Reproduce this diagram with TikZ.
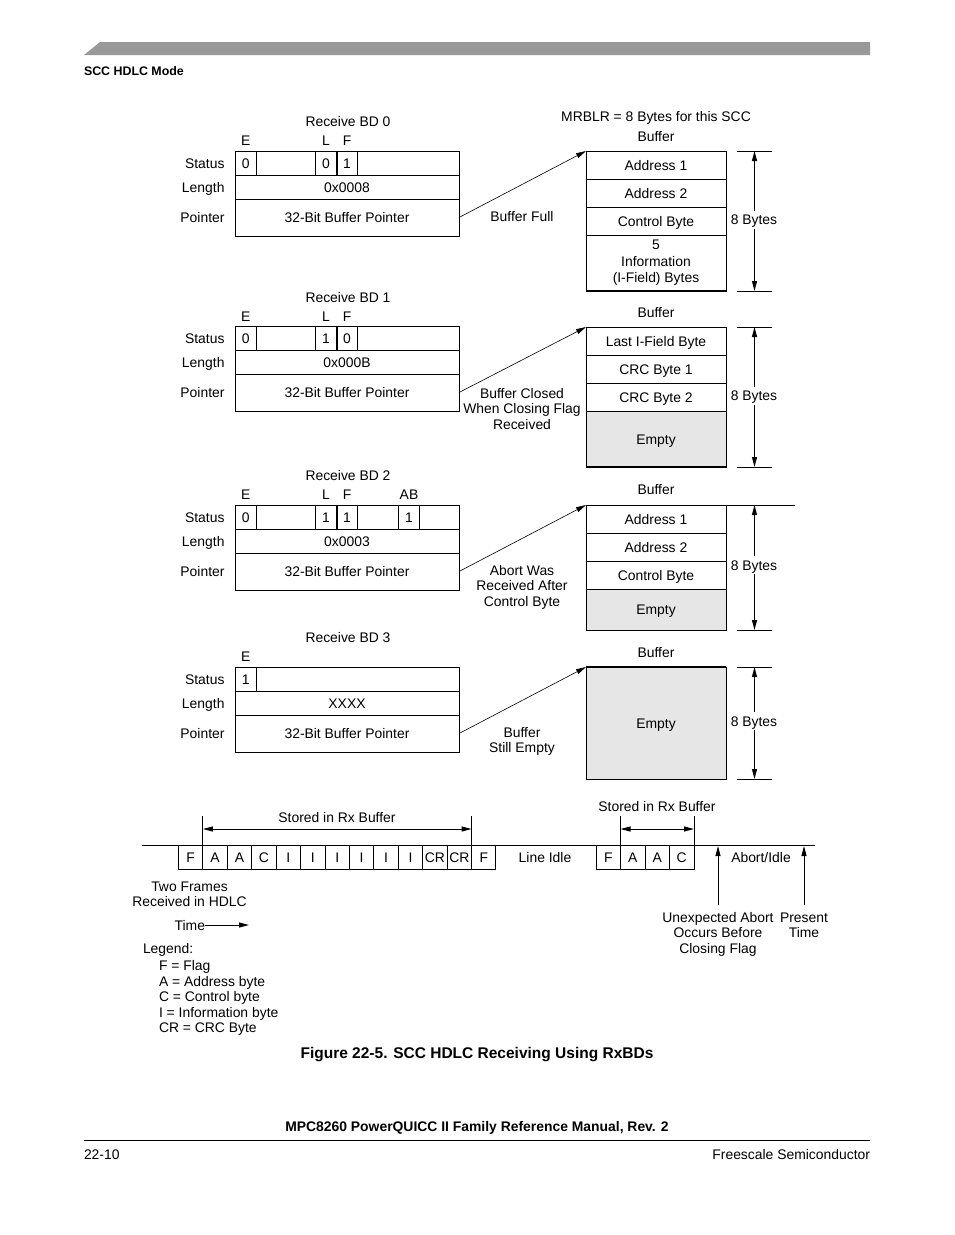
\documentclass[tikz,border=0pt]{standalone}
\usepackage{fontspec}
\setmainfont{Liberation Sans}
\usetikzlibrary{arrows.meta}
\definecolor{emptygray}{HTML}{E6E6E6}
\definecolor{bargray}{HTML}{999999}
\begin{document}
\begin{tikzpicture}[x=1pt,y=-1pt,
  f/.style={font=\fontsize{13.9}{16}\selectfont},
  tx/.style={f, inner sep=0pt, outer sep=0pt, text height=10pt, text depth=0pt, anchor=center},
  lbl/.style={tx, anchor=east},
  lft/.style={tx, anchor=west},
  bdrow/.style={tx, draw, line width=1pt, minimum width=224pt},
  bufrow/.style={tx, draw, line width=1pt, minimum width=140pt},
  grayrow/.style={bufrow, fill=emptygray},
  cell/.style={tx, draw, line width=1pt, minimum width=24.42pt, minimum height=24pt},
  cellb/.style={cell, minimum width=24.5pt},
  thin/.style={line width=1pt},
  thick2/.style={line width=2pt},
  ptr/.style={-{Triangle[length=10pt,width=5pt]}, line width=0.6pt},
  dim/.style={{Triangle[length=10pt,width=5pt]}-{Triangle[length=10pt,width=5pt]}, line width=1pt},
  uarr/.style={-{Triangle[length=10pt,width=5pt]}, line width=1pt},
  bytes/.style={tx, fill=white, inner xsep=1pt, inner ysep=4pt},
  hdr/.style={tx, anchor=west, font=\fontsize{12.4}{14}\selectfont\bfseries, text height=9pt}
]
\fill[white] (0,0) rectangle (954,1235);
\useasboundingbox (0,0) rectangle (954,1235);

% ---------- page header ----------
\fill[bargray] (84,55) -- (100,42) -- (870,42) -- (870,55) -- cycle;
\node[hdr] (hdrtext) at (84,71) {SCC HDLC Mode};

% ---------- Receive BD 0 ----------
\node[tx] (bd0t) at (348,121) {Receive BD 0};
\node[tx] (bd0e) at (245.75,140) {E};
\node[tx] (bd0l) at (326,140) {L};
\node[tx] (bd0f) at (347,140) {F};
\node[bdrow, minimum height=24pt] (bd0s) at (347,163) {};
\node[bdrow, minimum height=24pt] (bd0n) at (347,187) {0x0008};
\node[bdrow, minimum height=37pt] (bd0p) at (347,217.5) {32-Bit Buffer Pointer};
\draw[thin] (256.5,151) -- (256.5,175) (315.5,151) -- (315.5,175) (357.5,151) -- (357.5,175);
\draw[thick2] (336.5,151) -- (336.5,175);
\node[tx] (bd0c1) at (245.75,163) {0};
\node[tx] (bd0c2) at (326,163) {0};
\node[tx] (bd0c3) at (347,163) {1};
\node[lbl] (bd0ls) at (224.5,163) {Status};
\node[lbl] (bd0ll) at (224.5,187) {Length};
\node[lbl] (bd0lp) at (224.5,217.5) {Pointer};

% ---------- Buffer 0 ----------
\node[tx] (mrblr) at (656,116) {MRBLR = 8 Bytes for this SCC};
\node[tx] (b0lbl) at (656,136) {Buffer};
\node[bufrow, minimum height=28pt] (b0r1) at (656,165) {Address 1};
\node[bufrow, minimum height=28pt] (b0r2) at (656,193) {Address 2};
\node[bufrow, minimum height=28pt] (b0r3) at (656,221) {Control Byte};
\node[bufrow, minimum height=56pt] (b0r4) at (656,263) {};
\node[tx] (b0i1) at (656,244.5) {5};
\node[tx] (b0i2) at (656,261) {Information};
\node[tx] (b0i3) at (656,277) {(I-Field) Bytes};
\draw[thick2] (b0r4.south west) -- (b0r4.south east);
\draw[ptr] (bd0p.east) -- (b0r1.north west);
\node[tx] (bd0msg) at (522,216.5) {Buffer Full};
\coordinate (d0t) at (754.5,151);
\coordinate (d0b) at (754.5,291);
\draw[thin] (737,151) -- (772,151) (737,291) -- (772,291);
\draw[dim] (d0t) -- (d0b);
\node[bytes] (d0lbl) at (754,219.5) {8 Bytes};

% ---------- Receive BD 1 ----------
\node[tx] (bd1t) at (348,297) {Receive BD 1};
\node[tx] (bd1e) at (245.75,316) {E};
\node[tx] (bd1l) at (326,316) {L};
\node[tx] (bd1f) at (347,316) {F};
\node[bdrow, minimum height=24pt] (bd1s) at (347,338) {};
\node[bdrow, minimum height=24pt] (bd1n) at (347,362) {0x000B};
\node[bdrow, minimum height=37pt] (bd1p) at (347,392.5) {32-Bit Buffer Pointer};
\draw[thin] (256.5,326) -- (256.5,350) (315.5,326) -- (315.5,350) (357.5,326) -- (357.5,350);
\draw[thick2] (336.5,326) -- (336.5,350);
\node[tx] (bd1c1) at (245.75,338) {0};
\node[tx] (bd1c2) at (326,338) {1};
\node[tx] (bd1c3) at (347,338) {0};
\node[lbl] (bd1ls) at (224.5,338) {Status};
\node[lbl] (bd1ll) at (224.5,362) {Length};
\node[lbl] (bd1lp) at (224.5,392.5) {Pointer};

% ---------- Buffer 1 ----------
\node[tx] (b1lbl) at (656,312) {Buffer};
\node[bufrow, minimum height=28pt] (b1r1) at (656,341) {Last I-Field Byte};
\node[bufrow, minimum height=28pt] (b1r2) at (656,369) {CRC Byte 1};
\node[bufrow, minimum height=28pt] (b1r3) at (656,397) {CRC Byte 2};
\node[grayrow, minimum height=56pt] (b1r4) at (656,439) {Empty};
\draw[thick2] (b1r4.south west) -- (b1r4.south east);
\draw[ptr] (bd1p.east) -- (b1r1.north west);
\node[tx] (bd1m1) at (522,393) {Buffer Closed};
\node[tx] (bd1m2) at (522,408.5) {When Closing Flag};
\node[tx] (bd1m3) at (522,424) {Received};
\coordinate (d1t) at (754.5,327);
\coordinate (d1b) at (754.5,467);
\draw[thin] (737,327) -- (772,327) (737,467) -- (772,467);
\draw[dim] (d1t) -- (d1b);
\node[bytes] (d1lbl) at (754,395.5) {8 Bytes};

% ---------- Receive BD 2 ----------
\node[tx] (bd2t) at (348,475) {Receive BD 2};
\node[tx] (bd2e) at (245.75,494) {E};
\node[tx] (bd2l) at (326,494) {L};
\node[tx] (bd2f) at (347,494) {F};
\node[tx] (bd2ab) at (409,494) {AB};
\node[bdrow, minimum height=24pt] (bd2s) at (347,517) {};
\node[bdrow, minimum height=24pt] (bd2n) at (347,541) {0x0003};
\node[bdrow, minimum height=37pt] (bd2p) at (347,571.5) {32-Bit Buffer Pointer};
\draw[thin] (256.5,505) -- (256.5,529) (315.5,505) -- (315.5,529) (357.5,505) -- (357.5,529)
            (398.5,505) -- (398.5,529) (419.5,505) -- (419.5,529);
\draw[thick2] (336.5,505) -- (336.5,529);
\node[tx] (bd2c1) at (245.75,517) {0};
\node[tx] (bd2c2) at (326,517) {1};
\node[tx] (bd2c3) at (347,517) {1};
\node[tx] (bd2c4) at (409,517) {1};
\node[lbl] (bd2ls) at (224.5,517) {Status};
\node[lbl] (bd2ll) at (224.5,541) {Length};
\node[lbl] (bd2lp) at (224.5,571.5) {Pointer};

% ---------- Buffer 2 ----------
\node[tx] (b2lbl) at (656,489) {Buffer};
\node[bufrow, minimum height=28pt] (b2r1) at (656,519) {Address 1};
\node[bufrow, minimum height=28pt] (b2r2) at (656,547) {Address 2};
\node[bufrow, minimum height=28pt] (b2r3) at (656,575) {Control Byte};
\node[grayrow, minimum height=41pt] (b2r4) at (656,609.5) {Empty};
\draw[ptr] (bd2p.east) -- (b2r1.north west);
\node[tx] (bd2m1) at (522,570.5) {Abort Was};
\node[tx] (bd2m2) at (522,585.5) {Received After};
\node[tx] (bd2m3) at (522,601) {Control Byte};
\coordinate (d2t) at (754.5,505);
\coordinate (d2b) at (754.5,630);
\draw[thin] (b2r1.north east) -- (795,505) (737,630) -- (772,630);
\draw[dim] (d2t) -- (d2b);
\node[bytes] (d2lbl) at (754,565) {8 Bytes};

% ---------- Receive BD 3 ----------
\node[tx] (bd3t) at (348,637) {Receive BD 3};
\node[tx] (bd3e) at (245.75,656) {E};
\node[bdrow, minimum height=24pt] (bd3s) at (347,679) {};
\node[bdrow, minimum height=24pt] (bd3n) at (347,703) {XXXX};
\node[bdrow, minimum height=37pt] (bd3p) at (347,733.5) {32-Bit Buffer Pointer};
\draw[thin] (256.5,667) -- (256.5,691);
\node[tx] (bd3c1) at (245.75,679) {1};
\node[lbl] (bd3ls) at (224.5,679) {Status};
\node[lbl] (bd3ll) at (224.5,703) {Length};
\node[lbl] (bd3lp) at (224.5,733.5) {Pointer};

% ---------- Buffer 3 ----------
\node[tx] (b3lbl) at (656,652) {Buffer};
\node[grayrow, minimum height=112pt] (b3r1) at (656,723) {Empty};
\draw[thick2] (b3r1.north west) -- (b3r1.north east);
\draw[ptr] (bd3p.east) -- (b3r1.north west);
\node[tx] (bd3m1) at (522,732) {Buffer};
\node[tx] (bd3m2) at (522,747) {Still Empty};
\coordinate (d3t) at (754.5,667);
\coordinate (d3b) at (754.5,779);
\draw[thin] (737,667) -- (772,667) (737,779) -- (772,779);
\draw[dim] (d3t) -- (d3b);
\node[bytes] (d3lbl) at (754,721) {8 Bytes};

% ---------- Timeline ----------
\coordinate (lineL) at (142,845);
\coordinate (lineR) at (815,845);
\draw[thin] (lineL) -- (lineR);
\foreach \lab [count=\i from 0] in {F,A,A,C,I,I,I,I,I,I,CR,CR,F}
  \node[cell] (c\i) at ({178.5+24.42*\i+12.21},857) {\lab};
\foreach \lab [count=\i from 0] in {F,A,A,C}
  \node[cellb] (e\i) at ({596+24.5*\i+12.25},857) {\lab};
\coordinate (lvl) at (0,829);
\coordinate (tk) at (0,816);
\draw[thin] (c1.north west) -- (c1.north west |- tk) (c12.north west) -- (c12.north west |- tk);
\draw[dim] (c1.north west |- lvl) -- (c12.north west |- lvl);
\node[tx] (st1) at (337,817) {Stored in Rx Buffer};
\draw[thin] (e1.north west) -- (e1.north west |- tk) (e3.north east) -- (e3.north east |- tk);
\draw[dim] (e1.north west |- lvl) -- (e3.north east |- lvl);
\node[tx] (st2) at (657,806) {Stored in Rx Buffer};
\node[tx] (idle) at (545,857) {Line Idle};
\node[tx] (abidle) at (761,857) {Abort/Idle};
\coordinate (ua0) at (718,905);
\coordinate (ua1) at (718,846);
\coordinate (pa0) at (804,905);
\coordinate (pa1) at (804,846);
\draw[uarr] (ua0) -- (ua1);
\draw[uarr] (pa0) -- (pa1);
\node[tx] (un1) at (718,917) {Unexpected Abort};
\node[tx] (un2) at (718,932) {Occurs Before};
\node[tx] (un3) at (718,948) {Closing Flag};
\node[tx] (pt1) at (804,917) {Present};
\node[tx] (pt2) at (804,932) {Time};
\node[tx] (two1) at (189.5,886) {Two Frames};
\node[tx] (two2) at (189.5,901) {Received in HDLC};
\node[tx, anchor=east] (time) at (205,925) {Time};
\coordinate (timeend) at (249,925);
\draw[uarr] (time.east) -- (timeend);

% ---------- Legend ----------
\node[lft] (leg) at (143,948) {Legend:};
\node[lft] (leg1) at (159,965) {F = Flag};
\node[lft] (leg2) at (159,981) {A = Address byte};
\node[lft] (leg3) at (159,996) {C = Control byte};
\node[lft] (leg4) at (159,1012) {I = Information byte};
\node[lft] (leg5) at (159,1027) {CR = CRC Byte};

% ---------- Caption and footer ----------
\node[tx, font=\fontsize{15.5}{18}\selectfont\bfseries, text height=11pt] (cap) at (477,1053) {Figure 22-5. SCC HDLC Receiving Using RxBDs};
\node[tx, font=\fontsize{13.9}{16}\selectfont\bfseries] (foot) at (477,1126) {MPC8260 PowerQUICC II Family Reference Manual, Rev. 2};
\coordinate (fl) at (84,1140);
\coordinate (fr) at (870,1140);
\draw[thin] (fl) -- (fr);
\node[lft] (pg) at (84,1154) {22-10};
\node[lbl] (fs) at (870,1154) {Freescale Semiconductor};
\end{tikzpicture}
\end{document}
